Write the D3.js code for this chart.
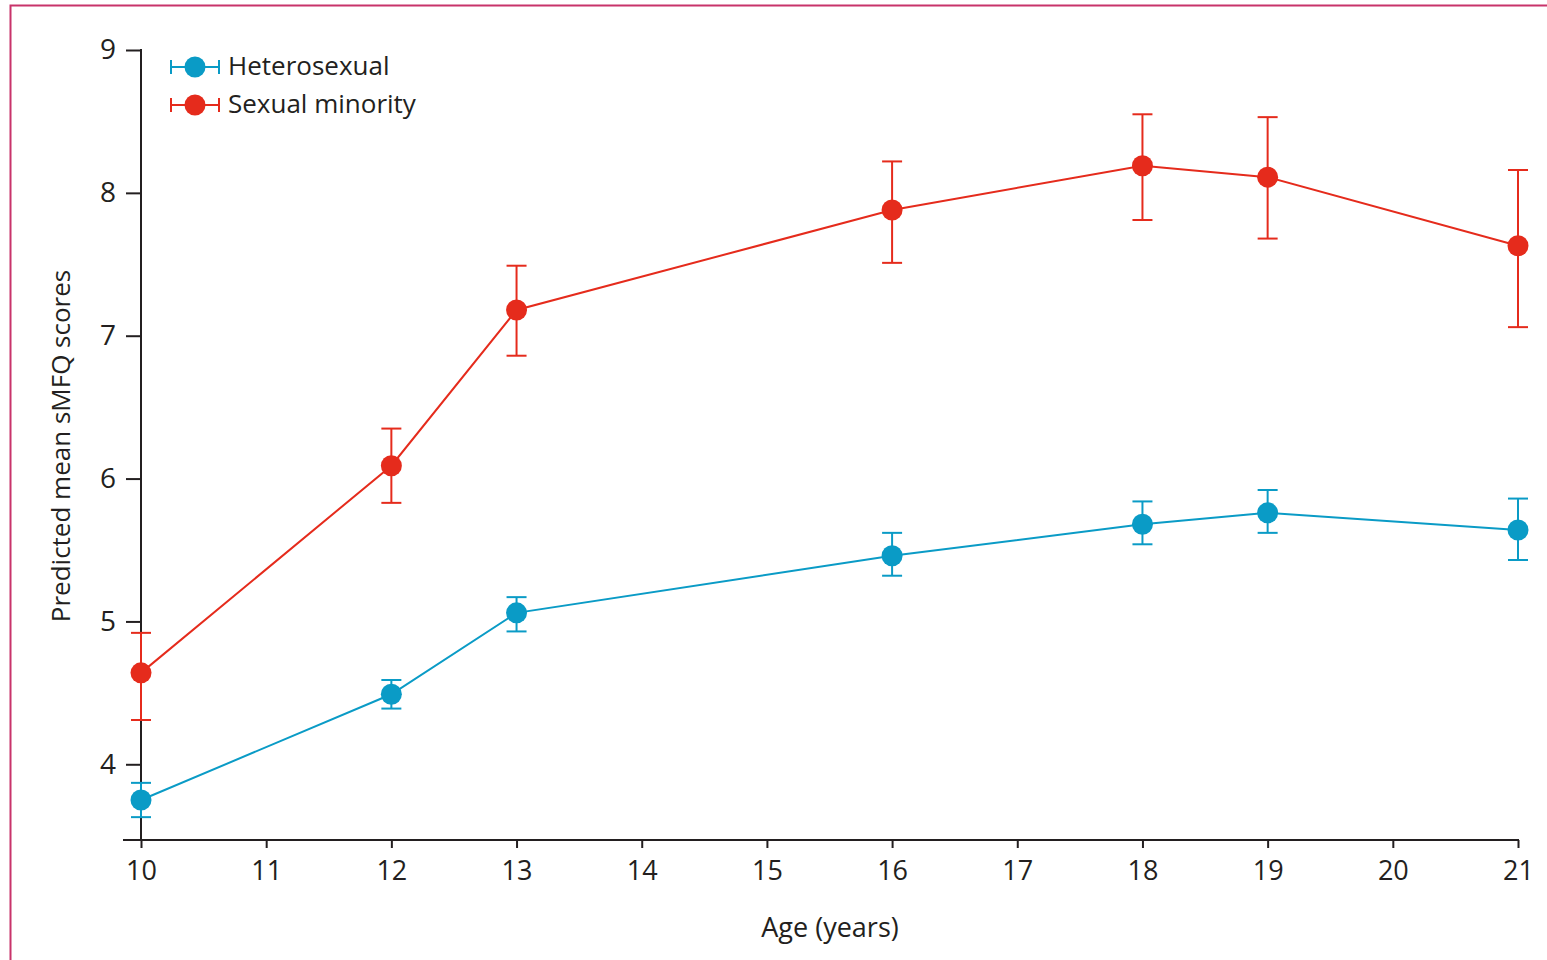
<!DOCTYPE html>
<html>
<head>
<meta charset="utf-8">
<script src="https://cdn.jsdelivr.net/npm/d3@7"></script>
<style>
  html, body { margin: 0; padding: 0; background: #fff; }
  svg { display: block; }
  text { font-family: "Open Sans", "Noto Sans", sans-serif; fill: #231f20; }
</style>
</head>
<body>
<div id="chart"></div>
<script>
const width = 1547;
const height = 960;

// Data
const ages = [10, 12, 13, 16, 18, 19, 21];
const xTicks = [10, 11, 12, 13, 14, 15, 16, 17, 18, 19, 20, 21];
const yTicks = [4, 5, 6, 7, 8, 9];

const heteroMean = [3.75, 4.49, 5.06, 5.46, 5.68, 5.76, 5.64];
const heteroLow  = [3.63, 4.39, 4.93, 5.32, 5.54, 5.62, 5.43];
const heteroHigh = [3.87, 4.59, 5.17, 5.62, 5.84, 5.92, 5.86];

const minorityMean = [4.64, 6.09, 7.18, 7.88, 8.19, 8.11, 7.63];
const minorityLow  = [4.31, 5.83, 6.86, 7.51, 7.81, 7.68, 7.06];
const minorityHigh = [4.92, 6.35, 7.49, 8.22, 8.55, 8.53, 8.16];

const seriesNames = ["Heterosexual", "Sexual minority"];
const seriesColors = ["#0a9bc6", "#e52b1c"];

const series = [
  {name: seriesNames[0], color: seriesColors[0], mean: heteroMean, low: heteroLow, high: heteroHigh},
  {name: seriesNames[1], color: seriesColors[1], mean: minorityMean, low: minorityLow, high: minorityHigh}
];

const margin = {top: 50, right: 29, bottom: 120, left: 141};

const svg = d3.select("#chart")
    .append("svg")
    .attr("width", width)
    .attr("height", height);

// pinkish frame round the figure (runs off the right and bottom)
svg.append("rect")
    .attr("x", 10.5).attr("y", 5.5)
    .attr("width", width + 20).attr("height", height + 20)
    .attr("fill", "none")
    .attr("stroke", "#c8336a")
    .attr("stroke-width", 2);

const x = d3.scaleLinear()
    .domain([10, 21])
    .range([margin.left, width - margin.right]);

const y = d3.scaleLinear()
    .domain([3.47, 9])
    .range([height - margin.bottom, margin.top]);

const axisColor = "#231f20";

// x axis (extends a bit to the left of the y axis)
const xAxis = svg.append("g")
    .attr("transform", `translate(0,${y(3.47)})`)
    .call(d3.axisBottom(x).tickValues(xTicks).tickFormat(d3.format("d"))
      .tickSize(8).tickPadding(13).tickSizeOuter(0));
xAxis.select(".domain").remove();
xAxis.append("line")
    .attr("x1", 123).attr("x2", x(21) + 1)
    .attr("stroke", axisColor).attr("stroke-width", 2);
xAxis.selectAll(".tick line").attr("stroke", axisColor).attr("stroke-width", 2);
xAxis.selectAll(".tick text")
    .attr("font-size", 27)
    .style("font-family", "'Open Sans', sans-serif")
    .attr("fill", axisColor);

// y axis
const yAxis = svg.append("g")
    .attr("transform", `translate(${margin.left},0)`)
    .call(d3.axisLeft(y).tickValues(yTicks).tickFormat(d3.format("d"))
      .tickSize(15).tickPadding(10).tickSizeOuter(0));
yAxis.select(".domain").remove();
yAxis.append("line")
    .attr("y1", y(9) - 1).attr("y2", y(3.47))
    .attr("stroke", axisColor).attr("stroke-width", 2);
yAxis.selectAll(".tick line").attr("stroke", axisColor).attr("stroke-width", 2);
yAxis.selectAll(".tick text")
    .attr("font-size", 28)
    .style("font-family", "'Open Sans', sans-serif")
    .attr("fill", axisColor);

// axis titles
svg.append("text")
    .attr("transform", `translate(70,${446}) rotate(-90)`)
    .attr("text-anchor", "middle")
    .attr("font-size", 26)
    .text("Predicted mean sMFQ scores");

svg.append("text")
    .attr("x", 830)
    .attr("y", 937)
    .attr("text-anchor", "middle")
    .attr("font-size", 27)
    .text("Age (years)");

const line = d3.line()
    .x(d => x(d.age))
    .y(d => y(d.mean));

const capW = 10;

series.forEach(s => {
  const pts = ages.map((a, i) => ({age: a, mean: s.mean[i], low: s.low[i], high: s.high[i]}));
  const g = svg.append("g");

  g.append("path")
      .datum(pts)
      .attr("d", line)
      .attr("fill", "none")
      .attr("stroke", s.color)
      .attr("stroke-width", 2);

  const eb = g.selectAll(".err")
      .data(pts)
      .enter()
      .append("g")
      .attr("stroke", s.color)
      .attr("stroke-width", 2);
  eb.append("line")
      .attr("x1", d => x(d.age)).attr("x2", d => x(d.age))
      .attr("y1", d => y(d.low)).attr("y2", d => y(d.high));
  eb.append("line")
      .attr("x1", d => x(d.age) - capW).attr("x2", d => x(d.age) + capW)
      .attr("y1", d => y(d.low)).attr("y2", d => y(d.low));
  eb.append("line")
      .attr("x1", d => x(d.age) - capW).attr("x2", d => x(d.age) + capW)
      .attr("y1", d => y(d.high)).attr("y2", d => y(d.high));

  g.selectAll("circle")
      .data(pts)
      .enter()
      .append("circle")
      .attr("cx", d => x(d.age))
      .attr("cy", d => y(d.mean))
      .attr("r", 10.5)
      .attr("fill", s.color);
});

// legend
const legend = svg.append("g").attr("transform", "translate(171,67)");
series.forEach((s, i) => {
  const row = legend.append("g").attr("transform", `translate(0,${i * 38})`);
  row.append("line").attr("x1", 0).attr("x2", 48).attr("stroke", s.color).attr("stroke-width", 2);
  row.append("line").attr("x1", 0).attr("x2", 0).attr("y1", -7).attr("y2", 7).attr("stroke", s.color).attr("stroke-width", 2);
  row.append("line").attr("x1", 48).attr("x2", 48).attr("y1", -7).attr("y2", 7).attr("stroke", s.color).attr("stroke-width", 2);
  row.append("circle").attr("cx", 24).attr("r", 10.5).attr("fill", s.color);
  row.append("text")
      .attr("x", 57)
      .attr("y", 8)
      .attr("font-size", 26)
      .text(s.name);
});
</script>
</body>
</html>
